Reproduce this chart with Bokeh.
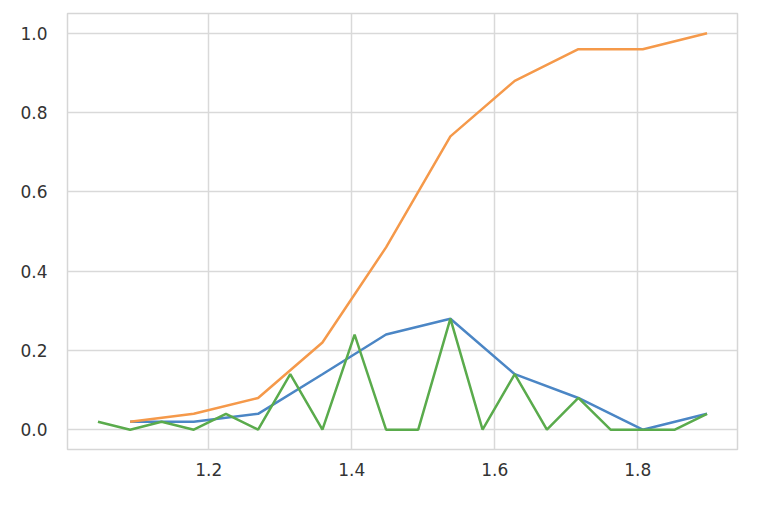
from bokeh.plotting import figure
from bokeh.models import FixedTicker, NumeralTickFormatter, Range1d
from bokeh.embed import file_html
from bokeh.resources import INLINE

# Fine bins (green) and coarse bins (blue / orange cumulative)
x_fine = [1.045, 1.090, 1.134, 1.179, 1.224, 1.269, 1.314, 1.359, 1.404, 1.448,
          1.493, 1.538, 1.583, 1.628, 1.673, 1.717, 1.762, 1.807, 1.852, 1.897]
fine_vals = [0.02, 0.0, 0.02, 0.0, 0.04, 0.0, 0.14, 0.0, 0.24, 0.0,
             0.0, 0.28, 0.0, 0.14, 0.0, 0.08, 0.0, 0.0, 0.0, 0.04]
x_coarse = [1.090, 1.179, 1.269, 1.359, 1.448, 1.538, 1.628, 1.717, 1.807, 1.897]
coarse_vals = [0.02, 0.02, 0.04, 0.14, 0.24, 0.28, 0.14, 0.08, 0.0, 0.04]
cumulative_vals = [0.02, 0.04, 0.08, 0.22, 0.46, 0.74, 0.88, 0.96, 0.96, 1.0]

x_ticks = [1.2, 1.4, 1.6, 1.8]
y_ticks = [0.0, 0.2, 0.4, 0.6, 0.8, 1.0]

p = figure(width=772, height=504, output_backend="svg", toolbar_location=None,
           x_range=Range1d(1.0024, 1.9396), y_range=Range1d(-0.05, 1.05),
           min_border_left=67, min_border_right=35, min_border_top=13, min_border_bottom=55)

p.background_fill_color = "white"
p.border_fill_color = "white"
p.outline_line_color = "#d6d6d6"
p.outline_line_width = 1.5

for ax in (p.xaxis[0], p.yaxis[0]):
    ax.axis_line_color = None
    ax.major_tick_line_color = None
    ax.minor_tick_line_color = None
    ax.major_label_text_font = "DejaVu Sans"
    ax.major_label_text_font_size = "17px"
    ax.major_label_text_color = "#333333"

p.xaxis[0].ticker = FixedTicker(ticks=x_ticks)
p.yaxis[0].ticker = FixedTicker(ticks=y_ticks)
p.xaxis[0].formatter = NumeralTickFormatter(format="0.0")
p.yaxis[0].formatter = NumeralTickFormatter(format="0.0")
p.xaxis[0].major_label_standoff = 7
p.yaxis[0].major_label_standoff = 14

p.xgrid.grid_line_color = "#d9d9d9"
p.ygrid.grid_line_color = "#d9d9d9"
p.xgrid.grid_line_width = 1.5
p.ygrid.grid_line_width = 1.5

p.line(x_coarse, coarse_vals, line_color="#4b86c5", line_width=2.5)
p.line(x_coarse, cumulative_vals, line_color="#f5994a", line_width=2.5)
p.line(x_fine, fine_vals, line_color="#5aab4c", line_width=2.5)

open("out.html", "w").write(file_html(p, INLINE))
